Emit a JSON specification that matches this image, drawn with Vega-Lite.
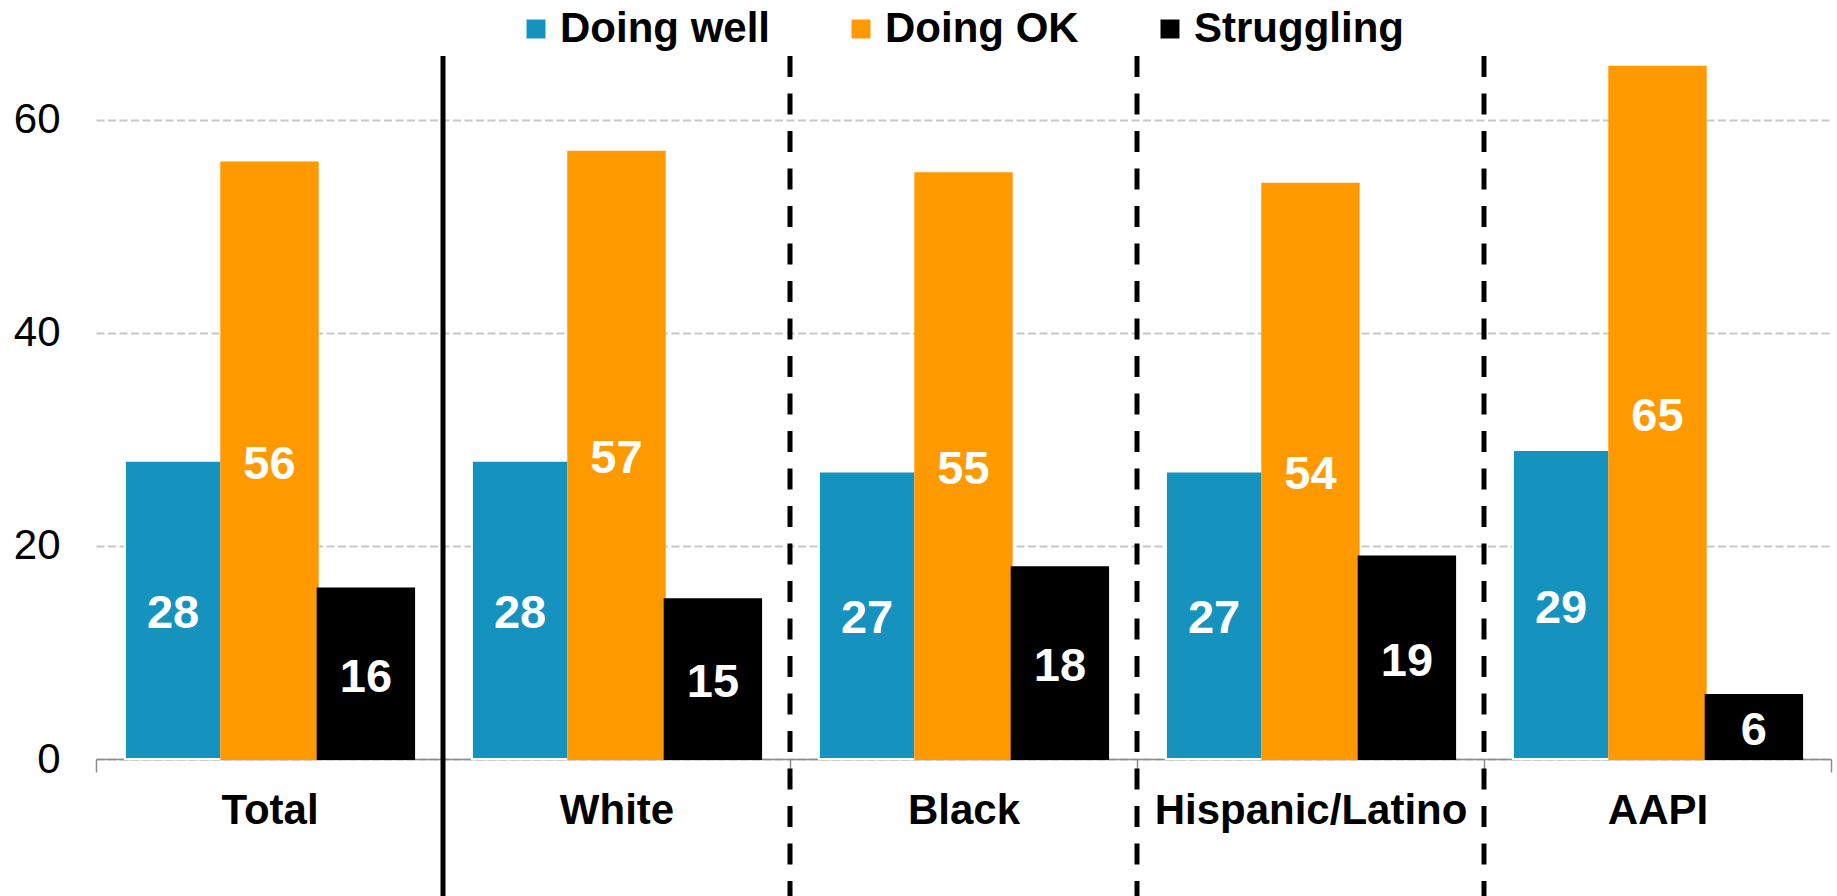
{
  "$schema": "https://vega.github.io/schema/vega-lite/v6.json",
  "width": 1735,
  "height": 703,
  "autosize": {"type": "none"},
  "padding": {"left": 96, "top": 56, "right": 6, "bottom": 137},
  "background": "white",
  "config": {
    "font": "Liberation Sans",
    "view": {"stroke": null}
  },
  "datasets": {
    "bars": [
      {"group": "Total", "status": "Doing well", "value": 28},
      {"group": "Total", "status": "Doing OK", "value": 56},
      {"group": "Total", "status": "Struggling", "value": 16},
      {"group": "White", "status": "Doing well", "value": 28},
      {"group": "White", "status": "Doing OK", "value": 57},
      {"group": "White", "status": "Struggling", "value": 15},
      {"group": "Black", "status": "Doing well", "value": 27},
      {"group": "Black", "status": "Doing OK", "value": 55},
      {"group": "Black", "status": "Struggling", "value": 18},
      {"group": "Hispanic/Latino", "status": "Doing well", "value": 27},
      {"group": "Hispanic/Latino", "status": "Doing OK", "value": 54},
      {"group": "Hispanic/Latino", "status": "Struggling", "value": 19},
      {"group": "AAPI", "status": "Doing well", "value": 29},
      {"group": "AAPI", "status": "Doing OK", "value": 65},
      {"group": "AAPI", "status": "Struggling", "value": 6}
    ],
    "solid": [{"group": "White"}],
    "dashed": [{"group": "Black"}, {"group": "Hispanic/Latino"}, {"group": "AAPI"}]
  },
  "layer": [
    {
      "data": {"name": "bars"},
      "mark": {"type": "bar", "strokeWidth": 2},
      "encoding": {
        "x": {
          "field": "group", "type": "nominal",
          "sort": ["Total", "White", "Black", "Hispanic/Latino", "AAPI"],
          "scale": {"paddingInner": 0, "paddingOuter": 0},
          "axis": {
            "title": null, "labelAngle": 0, "labelFontSize": 42, "labelFontWeight": "bold",
            "labelColor": "black", "labelPadding": 18, "tickSize": 13, "tickColor": "#8C8C8C",
            "tickWidth": 1.5, "domainColor": "#8C8C8C", "domainWidth": 1.5, "tickBand": "extent",
            "labelLimit": 500, "grid": false
          }
        },
        "xOffset": {
          "field": "status", "type": "nominal",
          "sort": ["Doing well", "Doing OK", "Struggling"],
          "scale": {"paddingInner": 0, "paddingOuter": 0.3}
        },
        "y": {
          "field": "value", "type": "quantitative",
          "scale": {"domain": [0, 66], "nice": false},
          "axis": {
            "title": null, "values": [0, 20, 40, 60], "labelFontSize": 42, "labelColor": "black",
            "labelPadding": 36, "domain": false, "ticks": false, "grid": true,
            "gridColor": "#C8C8C8", "gridDash": [8, 3.5], "gridWidth": 2
          }
        },
        "color": {
          "field": "status", "type": "nominal",
          "sort": ["Doing well", "Doing OK", "Struggling"],
          "scale": {"domain": ["Doing well", "Doing OK", "Struggling"], "range": ["#1592BE", "#FF9900", "#000000"]},
          "legend": {
            "orient": "none", "legendX": 419, "legendY": -48, "direction": "horizontal",
            "title": null, "symbolType": "square", "symbolSize": 360, "symbolStrokeWidth": 0,
            "labelFontSize": 42, "labelFontWeight": "bold", "labelColor": "black",
            "labelOffset": 3, "columnPadding": 70, "labelLimit": 400, "padding": 0
          }
        },
        "stroke": {
          "field": "status", "type": "nominal",
          "scale": {"domain": ["Doing well", "Doing OK", "Struggling"], "range": ["#FFFFFF", "#FF9900", "#000000"]},
          "legend": null
        }
      }
    },
    {
      "data": {"name": "bars"},
      "mark": {"type": "text", "color": "white", "fontSize": 47, "fontWeight": "bold", "baseline": "middle", "dy": 4},
      "encoding": {
        "x": {"field": "group", "type": "nominal", "sort": ["Total", "White", "Black", "Hispanic/Latino", "AAPI"]},
        "xOffset": {"field": "status", "type": "nominal", "sort": ["Doing well", "Doing OK", "Struggling"]},
        "y": {"field": "value", "type": "quantitative", "scale": {"domain": [0, 132], "nice": false}, "axis": null},
        "text": {"field": "value", "type": "quantitative"}
      }
    },
    {
      "data": {"name": "solid"},
      "mark": {"type": "rule", "color": "black", "strokeWidth": 5},
      "encoding": {
        "x": {"field": "group", "type": "nominal", "bandPosition": 0, "sort": ["Total", "White", "Black", "Hispanic/Latino", "AAPI"]},
        "y": {"datum": 66, "type": "quantitative", "scale": {"domain": [0, 66], "nice": false}, "axis": null},
        "y2": {"datum": -13}
      }
    },
    {
      "data": {"name": "dashed"},
      "mark": {"type": "rule", "color": "black", "strokeWidth": 5, "strokeDash": [21, 16.5]},
      "encoding": {
        "x": {"field": "group", "type": "nominal", "bandPosition": 0, "sort": ["Total", "White", "Black", "Hispanic/Latino", "AAPI"]},
        "y": {"datum": 66, "type": "quantitative", "scale": {"domain": [0, 66], "nice": false}, "axis": null},
        "y2": {"datum": -13}
      }
    }
  ],
  "resolve": {"scale": {"y": "independent"}}
}
